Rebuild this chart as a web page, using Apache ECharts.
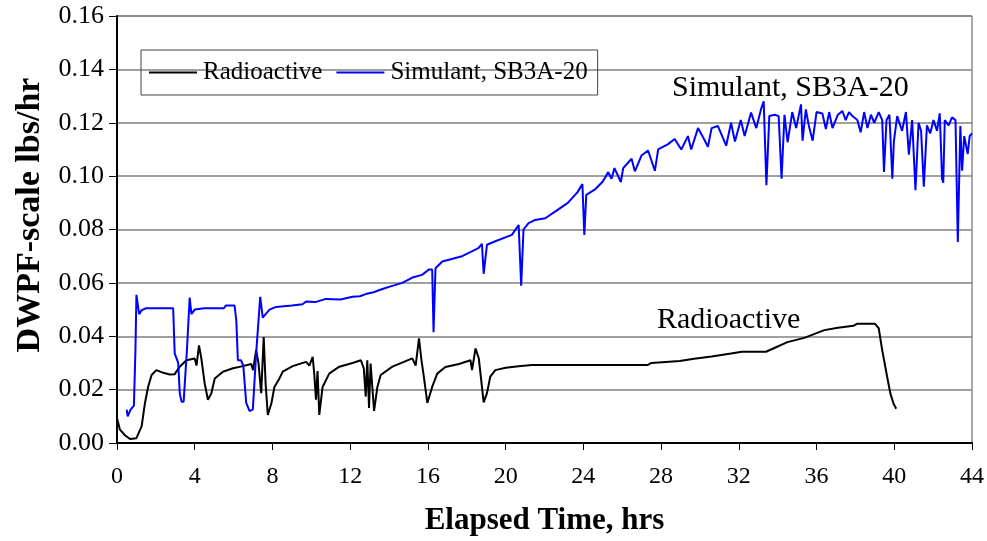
<!DOCTYPE html>
<html>
<head>
<meta charset="utf-8">
<script src="https://cdn.jsdelivr.net/npm/echarts@6/dist/echarts.min.js"></script>
<style>html,body{margin:0;padding:0;background:#fff}#c{width:987px;height:541px}</style>
</head>
<body>
<div id="c"></div>
<script>
const seriesNames = ["Radioactive", "Simulant, SB3A-20"];
const xTicks = [0, 4, 8, 12, 16, 20, 24, 28, 32, 36, 40, 44];
const yTicks = [0.00, 0.02, 0.04, 0.06, 0.08, 0.10, 0.12, 0.14, 0.16];

const radHours = [0.0,0.15,0.41,0.67,1.0,1.27,1.44,1.6,1.78,2.03,2.38,2.72,2.97,3.23,3.57,4.0,4.09,4.22,4.34,4.51,4.68,4.86,5.03,5.45,5.97,6.48,6.91,7.0,7.16,7.28,7.42,7.55,7.65,7.76,7.95,8.1,8.36,8.53,9.04,9.73,9.9,10.07,10.15,10.24,10.32,10.41,10.58,10.92,11.44,12.12,12.55,12.7,12.8,12.88,12.97,13.05,13.23,13.4,13.57,14.17,15.2,15.37,15.54,15.67,15.79,15.97,16.22,16.48,16.9,17.6,18.19,18.27,18.45,18.62,18.78,18.87,19.04,19.21,19.47,20.0,20.67,21.35,27.3,27.5,28.96,29.7,30.6,31.6,32.15,33.4,33.8,34.5,35.37,36.4,37.1,37.9,38.1,39.0,39.2,39.37,39.63,39.8,39.97,40.1];
const radValues = [0.0094,0.005,0.0029,0.0015,0.0018,0.0063,0.015,0.021,0.0255,0.0273,0.0263,0.0257,0.0258,0.0286,0.031,0.0317,0.029,0.0366,0.0317,0.0224,0.0162,0.0187,0.0242,0.0267,0.028,0.0288,0.0296,0.0273,0.0348,0.030,0.0187,0.0397,0.022,0.0105,0.015,0.021,0.0242,0.0267,0.0288,0.0304,0.029,0.0323,0.026,0.0162,0.027,0.0105,0.021,0.026,0.0286,0.030,0.031,0.028,0.0174,0.031,0.0131,0.0298,0.0120,0.021,0.0255,0.0286,0.0317,0.029,0.0392,0.031,0.0249,0.0150,0.021,0.026,0.0285,0.0296,0.031,0.0273,0.0354,0.0317,0.021,0.0152,0.0187,0.0249,0.0273,0.0282,0.0288,0.0292,0.0292,0.030,0.0307,0.0316,0.0324,0.0335,0.0342,0.0342,0.0355,0.0378,0.0394,0.0423,0.0432,0.0439,0.0447,0.0447,0.043,0.0352,0.0249,0.0185,0.0146,0.0128];

const simHours = [0.5,0.55,0.7,0.87,0.95,1.0,1.14,1.27,1.5,2.0,2.5,2.89,2.97,3.05,3.15,3.23,3.32,3.43,3.6,3.74,3.83,4.0,4.5,5.5,5.6,6.05,6.14,6.22,6.38,6.5,6.65,6.82,6.99,7.16,7.37,7.5,7.67,7.85,8.19,9.0,9.55,9.73,10.2,10.75,11.5,12.12,12.5,12.8,13.2,13.66,14.0,14.68,15.2,15.7,16.05,16.22,16.29,16.39,16.74,17.76,18.6,18.78,18.87,19.04,19.47,20.32,20.67,20.8,20.92,21.18,21.52,22.04,22.6,23.2,23.7,23.95,24.05,24.15,24.6,25.0,25.28,25.45,25.6,25.93,26.05,26.48,26.65,26.99,27.33,27.68,27.85,28.36,28.7,29.04,29.38,29.55,29.9,30.2,30.41,30.6,30.92,31.35,31.6,31.8,32.1,32.3,32.63,32.9,33.14,33.28,33.42,33.57,33.85,34.05,34.2,34.35,34.51,34.75,34.95,35.2,35.28,35.45,35.6,35.8,36.0,36.3,36.48,36.65,36.82,37.1,37.33,37.5,37.67,37.85,38.1,38.27,38.45,38.62,38.8,38.97,39.2,39.38,39.47,39.6,39.75,39.9,39.98,40.15,40.4,40.6,40.75,40.92,41.09,41.25,41.38,41.52,41.68,41.85,42.02,42.2,42.34,42.46,42.52,42.6,42.8,42.97,43.15,43.27,43.4,43.49,43.6,43.78,43.88,44.0];
const simValues = [0.0125,0.0100,0.0125,0.0140,0.0350,0.0555,0.0483,0.0498,0.0505,0.0505,0.0505,0.0505,0.0335,0.032,0.030,0.0187,0.0155,0.0155,0.035,0.0545,0.0483,0.0500,0.0505,0.0505,0.0515,0.0515,0.0459,0.031,0.031,0.029,0.015,0.0120,0.0125,0.0335,0.0548,0.047,0.0485,0.0500,0.0510,0.0515,0.052,0.053,0.0528,0.054,0.0538,0.0548,0.055,0.0558,0.0565,0.0577,0.0585,0.060,0.062,0.063,0.0650,0.065,0.0415,0.0655,0.068,0.070,0.073,0.0746,0.0634,0.0743,0.0756,0.078,0.0817,0.0589,0.080,0.0824,0.0836,0.0842,0.087,0.090,0.094,0.097,0.078,0.093,0.095,0.098,0.1015,0.099,0.103,0.0978,0.103,0.1065,0.1018,0.1077,0.1096,0.102,0.110,0.112,0.1139,0.110,0.115,0.110,0.118,0.114,0.111,0.118,0.1188,0.1114,0.120,0.113,0.121,0.115,0.1238,0.118,0.125,0.128,0.0966,0.1225,0.123,0.1225,0.099,0.123,0.1127,0.124,0.118,0.1269,0.1133,0.125,0.119,0.1133,0.124,0.1235,0.1176,0.124,0.118,0.123,0.1244,0.121,0.124,0.1225,0.121,0.1164,0.124,0.118,0.123,0.120,0.124,0.121,0.1016,0.121,0.123,0.099,0.113,0.1225,0.117,0.124,0.108,0.121,0.0947,0.120,0.117,0.096,0.119,0.116,0.121,0.117,0.1235,0.099,0.0975,0.121,0.119,0.122,0.121,0.0753,0.1188,0.102,0.115,0.1083,0.115,0.116];

const FONT = '"Liberation Serif","Times New Roman",serif';
const radData = radHours.map((h, i) => [h, radValues[i]]);
const simData = simHours.map((h, i) => [h, simValues[i]]);

const chart = echarts.init(document.getElementById('c'), null, {renderer: 'canvas'});
chart.setOption({
  animation: false,
  backgroundColor: '#ffffff',
  grid: {left: 117, right: 12, top: 16, bottom: 94, show: true, borderColor: '#555', borderWidth: 1, backgroundColor: 'transparent'},
  legend: {
    left: 141, top: 50,
    data: seriesNames,
    icon: 'rect',
    itemWidth: 48, itemHeight: 2, itemGap: 14,
    padding: [10, 10, 10, 8],
    borderColor: '#444', borderWidth: 1,
    textStyle: {fontFamily: FONT, fontSize: 25, color: '#000', padding: [0, 0, 0, 1]}
  },
  xAxis: {
    type: 'value', min: xTicks[0], max: xTicks[xTicks.length - 1], interval: 4,
    name: 'Elapsed Time, hrs', nameLocation: 'middle', nameGap: 62,
    nameTextStyle: {fontFamily: FONT, fontSize: 31, fontWeight: 'bold', color: '#000'},
    axisLine: {lineStyle: {color: '#000', width: 2}},
    axisTick: {show: true, inside: false, length: 7, lineStyle: {color: '#000', width: 1}},
    axisLabel: {fontFamily: FONT, fontSize: 24, color: '#000', margin: 22},
    splitLine: {show: false}
  },
  yAxis: {
    type: 'value', min: yTicks[0], max: yTicks[yTicks.length - 1], interval: 0.02,
    axisLine: {show: true, lineStyle: {color: '#000', width: 2}},
    axisTick: {show: true, inside: false, length: 8, lineStyle: {color: '#000', width: 1}},
    axisLabel: {fontFamily: FONT, fontSize: 26, color: '#000', margin: 13, formatter: v => v.toFixed(2)},
    splitLine: {show: true, lineStyle: {color: '#808080', width: 1.5}}
  },
  series: [
    {name: seriesNames[0], type: 'line', data: radData, symbol: 'none', showSymbol: false,
     lineStyle: {color: '#000000', width: 2}, itemStyle: {color: '#000000'}, z: 3},
    {name: seriesNames[1], type: 'line', data: simData, symbol: 'none', showSymbol: false,
     lineStyle: {color: '#0000ff', width: 2}, itemStyle: {color: '#0000ff'}, z: 4}
  ],
  graphic: [
    {type: 'text', x: 30, y: 215, rotation: Math.PI / 2,
     style: {text: 'DWPF-scale lbs/hr', font: 'bold 34px ' + FONT, fill: '#000', align: 'center', verticalAlign: 'middle'}},
    {type: 'text', left: 672, top: 73, style: {text: 'Simulant, SB3A-20', font: '30px ' + FONT, fill: '#000'}},
    {type: 'text', left: 657, top: 305, style: {text: 'Radioactive', font: '30px ' + FONT, fill: '#000'}}
  ]
});
</script>
</body>
</html>
